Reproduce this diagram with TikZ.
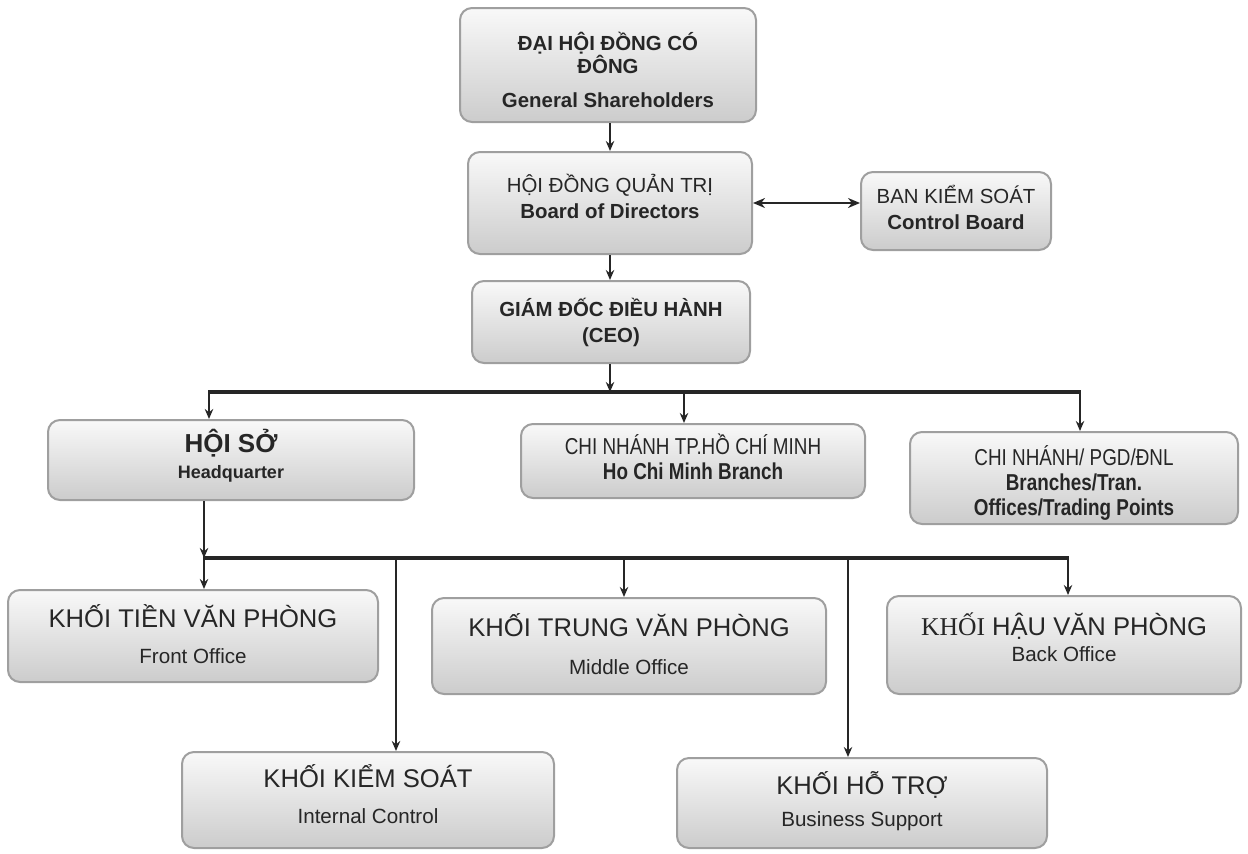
\documentclass[tikz,border=0pt]{standalone}
\usepackage{fontspec}
\setmainfont{Liberation Sans}
\newfontfamily\narrowfont[FakeStretch=0.82]{Liberation Sans}
\newfontfamily\seriffont{Liberation Serif}
\usetikzlibrary{arrows.meta}
\tikzset{
  orgbox/.style={draw=gray!75, line width=1pt, rounded corners=6pt,
    top color=gray!5, bottom color=gray!40, inner sep=0pt},
  txt/.style={align=center, inner sep=0pt, text=black!85},
  link/.style={line width=1pt, draw=black!85},
  bar/.style={line width=1.6pt, draw=black!85},
  arr/.style={link, -{Stealth[length=5pt,width=4.2pt]}},
  darr/.style={line width=1.2pt, draw=black!85, {Stealth[length=6pt,width=5pt]}-{Stealth[length=6pt,width=5pt]}},
  tfont/.style={font=\fontsize{10.2}{12}\selectfont},
  nfont/.style={font=\narrowfont\fontsize{11.5}{12.6}\selectfont}
}
\newcommand{\ttl}[1]{{\fontsize{12.8}{15}\selectfont #1}}
\newcommand{\sub}[1]{{\fontsize{10.3}{12}\selectfont #1}}
\begin{document}
\begin{tikzpicture}[x=0.5pt,y=-0.5pt]
\useasboundingbox (0,0) rectangle (1248,853);
% boxes
\node[orgbox, minimum width=148pt, minimum height=57pt] (gsh) at (608,65) {};
\node[orgbox, minimum width=142pt, minimum height=51pt] (bod) at (610,203) {};
\node[orgbox, minimum width=95pt, minimum height=39pt] (cb) at (956,211) {};
\node[orgbox, minimum width=139pt, minimum height=41pt] (ceo) at (611,322) {};
\node[orgbox, minimum width=183pt, minimum height=40pt] (hq) at (231,460) {};
\node[orgbox, minimum width=172pt, minimum height=37pt] (hcm) at (693,461) {};
\node[orgbox, minimum width=164pt, minimum height=46pt] (br) at (1074,478) {};
\node[orgbox, minimum width=185pt, minimum height=46pt] (fo) at (193,636) {};
\node[orgbox, minimum width=197pt, minimum height=48pt] (mo) at (629,646) {};
\node[orgbox, minimum width=177pt, minimum height=49pt] (bo) at (1064,645) {};
\node[orgbox, minimum width=186pt, minimum height=48pt] (ks) at (368,800) {};
\node[orgbox, minimum width=185pt, minimum height=45pt] (ht) at (862,803) {};
% texts
\node[txt, tfont] (gsh-t) at ([yshift=-2.5pt]gsh.center)
  {\bfseries ĐẠI HỘI ĐỒNG CÓ\\[-0.5pt]\bfseries ĐÔNG\\[5pt]\bfseries General Shareholders};
\node[txt, tfont] (bod-t) at ([yshift=3.5pt]bod.center)
  {HỘI ĐỒNG QUẢN TRỊ\\[1pt]\bfseries Board of Directors};
\node[txt, tfont] (cb-t) at ([yshift=2pt]cb.center)
  {BAN KIỂM SOÁT\\[1pt]\bfseries Control Board};
\node[txt, tfont] (ceo-t) at (ceo.center)
  {\bfseries GIÁM ĐỐC ĐIỀU HÀNH\\[1pt]\bfseries (CEO)};
\node[txt] (hq-t) at ([yshift=2pt]hq.center)
  {{\fontsize{13}{15}\selectfont\bfseries HỘI SỞ}\\[1pt]{\fontsize{9}{11}\selectfont\bfseries Headquarter}};
\node[txt, nfont] (hcm-t) at ([yshift=2pt]hcm.center)
  {CHI NHÁNH TP.HỒ CHÍ MINH\\\bfseries Ho Chi Minh Branch};
\node[txt, nfont] (br-t) at ([yshift=-2.5pt]br.center)
  {CHI NHÁNH/ PGD/ĐNL\\\bfseries Branches/Tran.\\\bfseries Offices/Trading Points};
\node[txt] (fo-t) at ([yshift=1pt]fo.center)
  {\ttl{KHỐI TIỀN VĂN PHÒNG}\\[6pt]\sub{Front Office}};
\node[txt] (mo-t) at ([yshift=1pt]mo.center)
  {\ttl{KHỐI TRUNG VĂN PHÒNG}\\[7pt]\sub{Middle Office}};
\node[txt] (bo-t) at ([yshift=4pt]bo.center)
  {\ttl{{\seriffont KHỐI} HẬU VĂN PHÒNG}\\[1pt]\sub{Back Office}};
\node[txt] (ks-t) at ([yshift=3pt]ks.center)
  {\ttl{KHỐI KIỂM SOÁT}\\[6pt]\sub{Internal Control}};
\node[txt] (ht-t) at ([yshift=1pt]ht.center)
  {\ttl{KHỐI HỖ TRỢ}\\[4pt]\sub{Business Support}};
% connector coordinates
\coordinate (xa) at (610,0);
\coordinate (b1w) at (209,392);
\coordinate (b1e) at (1080,392);
\coordinate (b1m) at (684,392);
\coordinate (b1c) at (610,392);
\coordinate (b2w) at (204,558);
\coordinate (b2e) at (1068,558);
\coordinate (b2k) at (396,558);
\coordinate (b2m) at (624,558);
\coordinate (b2h) at (848,558);
% connectors
\draw[arr] (gsh.south -| xa) -- (bod.north -| xa);
\draw[darr] (bod.east) -- (cb.west |- bod.east);
\draw[arr] (bod.south -| xa) -- (ceo.north -| xa);
\draw[arr] (ceo.south -| xa) -- (b1c);
\draw[bar] ([xshift=-0.5pt]b1w) -- ([xshift=0.5pt]b1e);
\draw[arr] (b1w) -- (hq.north -| b1w);
\draw[arr] (b1m) -- (hcm.north -| b1m);
\draw[arr] (b1e) -- (br.north -| b1e);
\draw[arr] (hq.south -| b2w) -- (b2w);
\draw[bar] ([xshift=-0.5pt]b2w) -- ([xshift=0.5pt]b2e);
\draw[arr] (b2w) -- (fo.north -| b2w);
\draw[arr] (b2k) -- (ks.north -| b2k);
\draw[arr] (b2m) -- (mo.north -| b2m);
\draw[arr] (b2h) -- (ht.north -| b2h);
\draw[arr] (b2e) -- (bo.north -| b2e);
\end{tikzpicture}
\end{document}
